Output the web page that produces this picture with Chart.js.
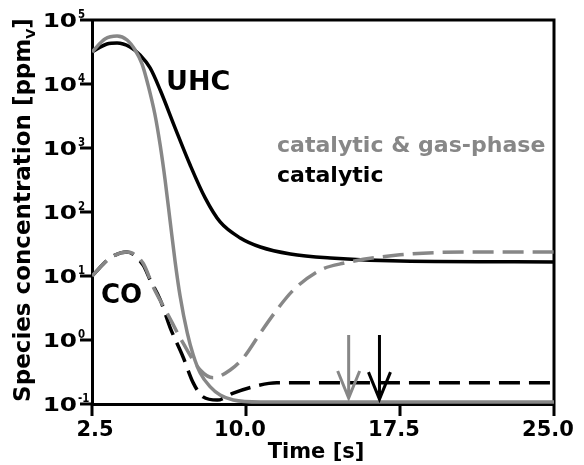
<!DOCTYPE html>
<html>
<head>
<meta charset="utf-8">
<script src="https://cdn.jsdelivr.net/npm/chart.js@4.4.1/dist/chart.umd.min.js"></script>
<style>
  html, body { margin: 0; padding: 0; background: #fff; }
  #wrap { width: 584px; height: 465px; }
</style>
</head>
<body>
<div id="wrap"><canvas id="chart" width="584" height="465"></canvas></div>
<script>
// UHC, catalytic only (black solid) - time [s], concentration [ppmV]
const uhcCatTime = [2.5, 3.23, 3.72, 4.35, 4.84, 5.33, 5.82, 6.55, 7.28, 8.01, 8.74, 9.72, 10.7, 12.16, 14.11, 17.53, 25];
const uhcCatValue = [31600, 42200, 43700, 37900, 28400, 17800, 8060, 2050, 542, 166, 69.8, 39.3, 28.4, 22.1, 19.1, 17.1, 16.6];

// UHC, catalytic & gas-phase (grey solid)
const uhcGasTime = [2.5, 3.13, 3.72, 4.21, 4.6, 4.94, 5.23, 5.57, 5.82, 6.06, 6.31, 6.55, 6.79, 7.14, 7.43, 7.77, 8.26, 8.74, 9.38, 10.7, 25];
const uhcGasValue = [31600, 50500, 56200, 48700, 34000, 20500, 9650, 3280, 1110, 316, 69.8, 16.6, 4.87, 1.29, 0.583, 0.305, 0.185, 0.138, 0.1155, 0.1075, 0.1075];

// CO, catalytic only (black dashed)
const coCatTime = [2.5, 3.38, 4.2, 4.99, 5.33, 5.82, 6.3, 6.94, 7.43, 7.91, 8.6, 9.38, 10.35, 11.5, 25];
const coCatValue = [10, 19.1, 23.7, 14.8, 8.7, 4.27, 1.58, 0.537, 0.214, 0.129, 0.115, 0.148, 0.186, 0.214, 0.214];

// CO, catalytic & gas-phase (grey dashed)
const coGasTime = [2.5, 3.38, 4.2, 4.99, 5.48, 6.16, 6.94, 7.77, 8.4, 9.23, 9.9, 10.7, 11.5, 12.3, 13.6, 14.74, 17.5, 20.8, 25];
const coGasValue = [10, 19.1, 23.7, 15.8, 6.76, 2.63, 0.89, 0.34, 0.257, 0.34, 0.54, 1.29, 2.95, 6.0, 12.3, 15.8, 21.4, 23.7, 23.7];

// axis ticks
const xTicks = [2.5, 10, 17.5, 25];
const xTickLabels = ['2.5', '10.0', '17.5', '25.0'];
const yTicks = [0.1, 1, 10, 100, 1000, 10000, 100000];
const yTickExponents = ['-1', '0', '1', '2', '3', '4', '5'];

// ignition markers (time [s], from / to concentration)
const arrowTime = [15.0, 16.5];
const arrowFrom = [1.2, 1.2];
const arrowTo = [0.124, 0.119];

const GREY = '#878787';
const BLACK = '#000000';
const FONT = '"DejaVu Sans", Verdana, sans-serif';
const arrowColor = [GREY, BLACK];

const toXY = (ts, vs) => ts.map((t, i) => ({ x: t, y: vs[i] }));

function text(ctx, str, x, y, font, color, align, sx) {
  ctx.save();
  ctx.font = font;
  ctx.fillStyle = color;
  ctx.textAlign = align || 'left';
  ctx.textBaseline = 'alphabetic';
  ctx.translate(x, y);
  ctx.scale(sx || 1, 1);
  ctx.fillText(str, 0, 0);
  ctx.restore();
}

const decor = {
  id: 'decor',
  beforeDatasetsDraw(chart) {
    const { ctx, chartArea: a, scales: { x, y } } = chart;
    ctx.save();
    ctx.strokeStyle = BLACK;
    ctx.lineWidth = 3;
    ctx.beginPath();
    ctx.moveTo(a.left, a.top);
    ctx.lineTo(a.right, a.top);
    ctx.lineTo(a.right, a.bottom);
    // outward tick marks
    yTicks.forEach(v => {
      const py = Math.round(y.getPixelForValue(v));
      ctx.moveTo(a.left - 12, py);
      ctx.lineTo(a.left, py);
    });
    xTicks.forEach(v => {
      const px = Math.round(x.getPixelForValue(v));
      ctx.moveTo(px, a.bottom);
      ctx.lineTo(px, a.bottom + 12);
    });
    ctx.stroke();
    ctx.restore();
  },
  afterDraw(chart) {
    const { ctx, chartArea: a, scales: { x, y } } = chart;

    // y tick labels: 10 with superscript exponent
    yTicks.forEach((v, i) => {
      const py = y.getPixelForValue(v);
      text(ctx, '10', 77, py + 7, 'bold 19px ' + FONT, BLACK, 'right', 1.3);
      text(ctx, yTickExponents[i], 78, py - 2, 'bold 12px ' + FONT, BLACK, 'left', 0.85);
    });

    // x tick labels
    xTicks.forEach((v, i) => {
      const px = Math.max(x.getPixelForValue(v) - 6, a.left + 3);
      text(ctx, xTickLabels[i], px, 436, 'bold 21px ' + FONT, BLACK, 'center');
    });

    // axis titles
    text(ctx, 'Time [s]', 316, 458, 'bold 21px ' + FONT, BLACK, 'center');

    ctx.save();
    ctx.translate(30, 210);
    ctx.rotate(-Math.PI / 2);
    ctx.fillStyle = BLACK;
    const big = 'bold 23px ' + FONT;
    const small = 'bold 13px ' + FONT;
    const parts = [['Species concentration [ppm', big, 0], ['V', small, 5], [']', big, 0]];
    let w = 0;
    parts.forEach(p => { ctx.font = p[1]; w += ctx.measureText(p[0]).width; });
    let cx = -w / 2;
    parts.forEach(p => {
      ctx.font = p[1];
      ctx.fillText(p[0], cx, p[2]);
      cx += ctx.measureText(p[0]).width;
    });
    ctx.restore();

    // curve labels and legend
    text(ctx, 'UHC', 166, 90, 'bold 27px ' + FONT, BLACK, 'left');
    text(ctx, 'CO', 101, 303, 'bold 26px ' + FONT, BLACK, 'left');
    text(ctx, 'catalytic & gas-phase', 277, 152, 'bold 21px ' + FONT, GREY, 'left', 1.05);
    text(ctx, 'catalytic', 277, 182, 'bold 21px ' + FONT, BLACK, 'left', 1.05);

    // arrows
    arrowTime.forEach((t, i) => {
      const px = x.getPixelForValue(t);
      const y0 = y.getPixelForValue(arrowFrom[i]);
      const y1 = y.getPixelForValue(arrowTo[i]);
      ctx.save();
      ctx.strokeStyle = arrowColor[i];
      ctx.lineWidth = 3;
      ctx.beginPath();
      ctx.moveTo(px, y0);
      ctx.lineTo(px, y1);
      ctx.moveTo(px - 11, y1 - 27);
      ctx.lineTo(px, y1);
      ctx.lineTo(px + 11, y1 - 27);
      ctx.stroke();
      ctx.restore();
    });
  }
};

const axisLine = { display: true, width: 3, color: BLACK };

new Chart(document.getElementById('chart'), {
  type: 'line',
  data: {
    datasets: [
      { data: toXY(coGasTime, coGasValue), borderColor: GREY, borderWidth: 3.5, borderDash: [21, 9], order: 1 },
      { data: toXY(coCatTime, coCatValue), borderColor: BLACK, borderWidth: 3.5, borderDash: [21, 9], order: 2 },
      { data: toXY(uhcGasTime, uhcGasValue), borderColor: GREY, borderWidth: 3.5, order: 3 },
      { data: toXY(uhcCatTime, uhcCatValue), borderColor: BLACK, borderWidth: 3.5, order: 4 }
    ]
  },
  options: {
    responsive: false,
    animation: false,
    layout: { padding: { top: 20, right: 30, left: 0, bottom: 0 } },
    elements: { point: { radius: 0 }, line: { cubicInterpolationMode: 'monotone', fill: false } },
    plugins: { legend: { display: false }, tooltip: { enabled: false } },
    scales: {
      x: {
        type: 'linear', min: 2.5, max: 25,
        afterBuildTicks: s => { s.ticks = xTicks.map(v => ({ value: v })); },
        afterFit: s => { s.height = 61; },
        ticks: { display: false },
        grid: { display: false },
        border: axisLine
      },
      y: {
        type: 'logarithmic', min: 0.1, max: 100000,
        afterBuildTicks: s => { s.ticks = yTicks.map(v => ({ value: v })); },
        afterFit: s => { s.width = 92; },
        ticks: { display: false },
        grid: { display: false },
        border: axisLine
      }
    }
  },
  plugins: [decor]
});
</script>
</body>
</html>
